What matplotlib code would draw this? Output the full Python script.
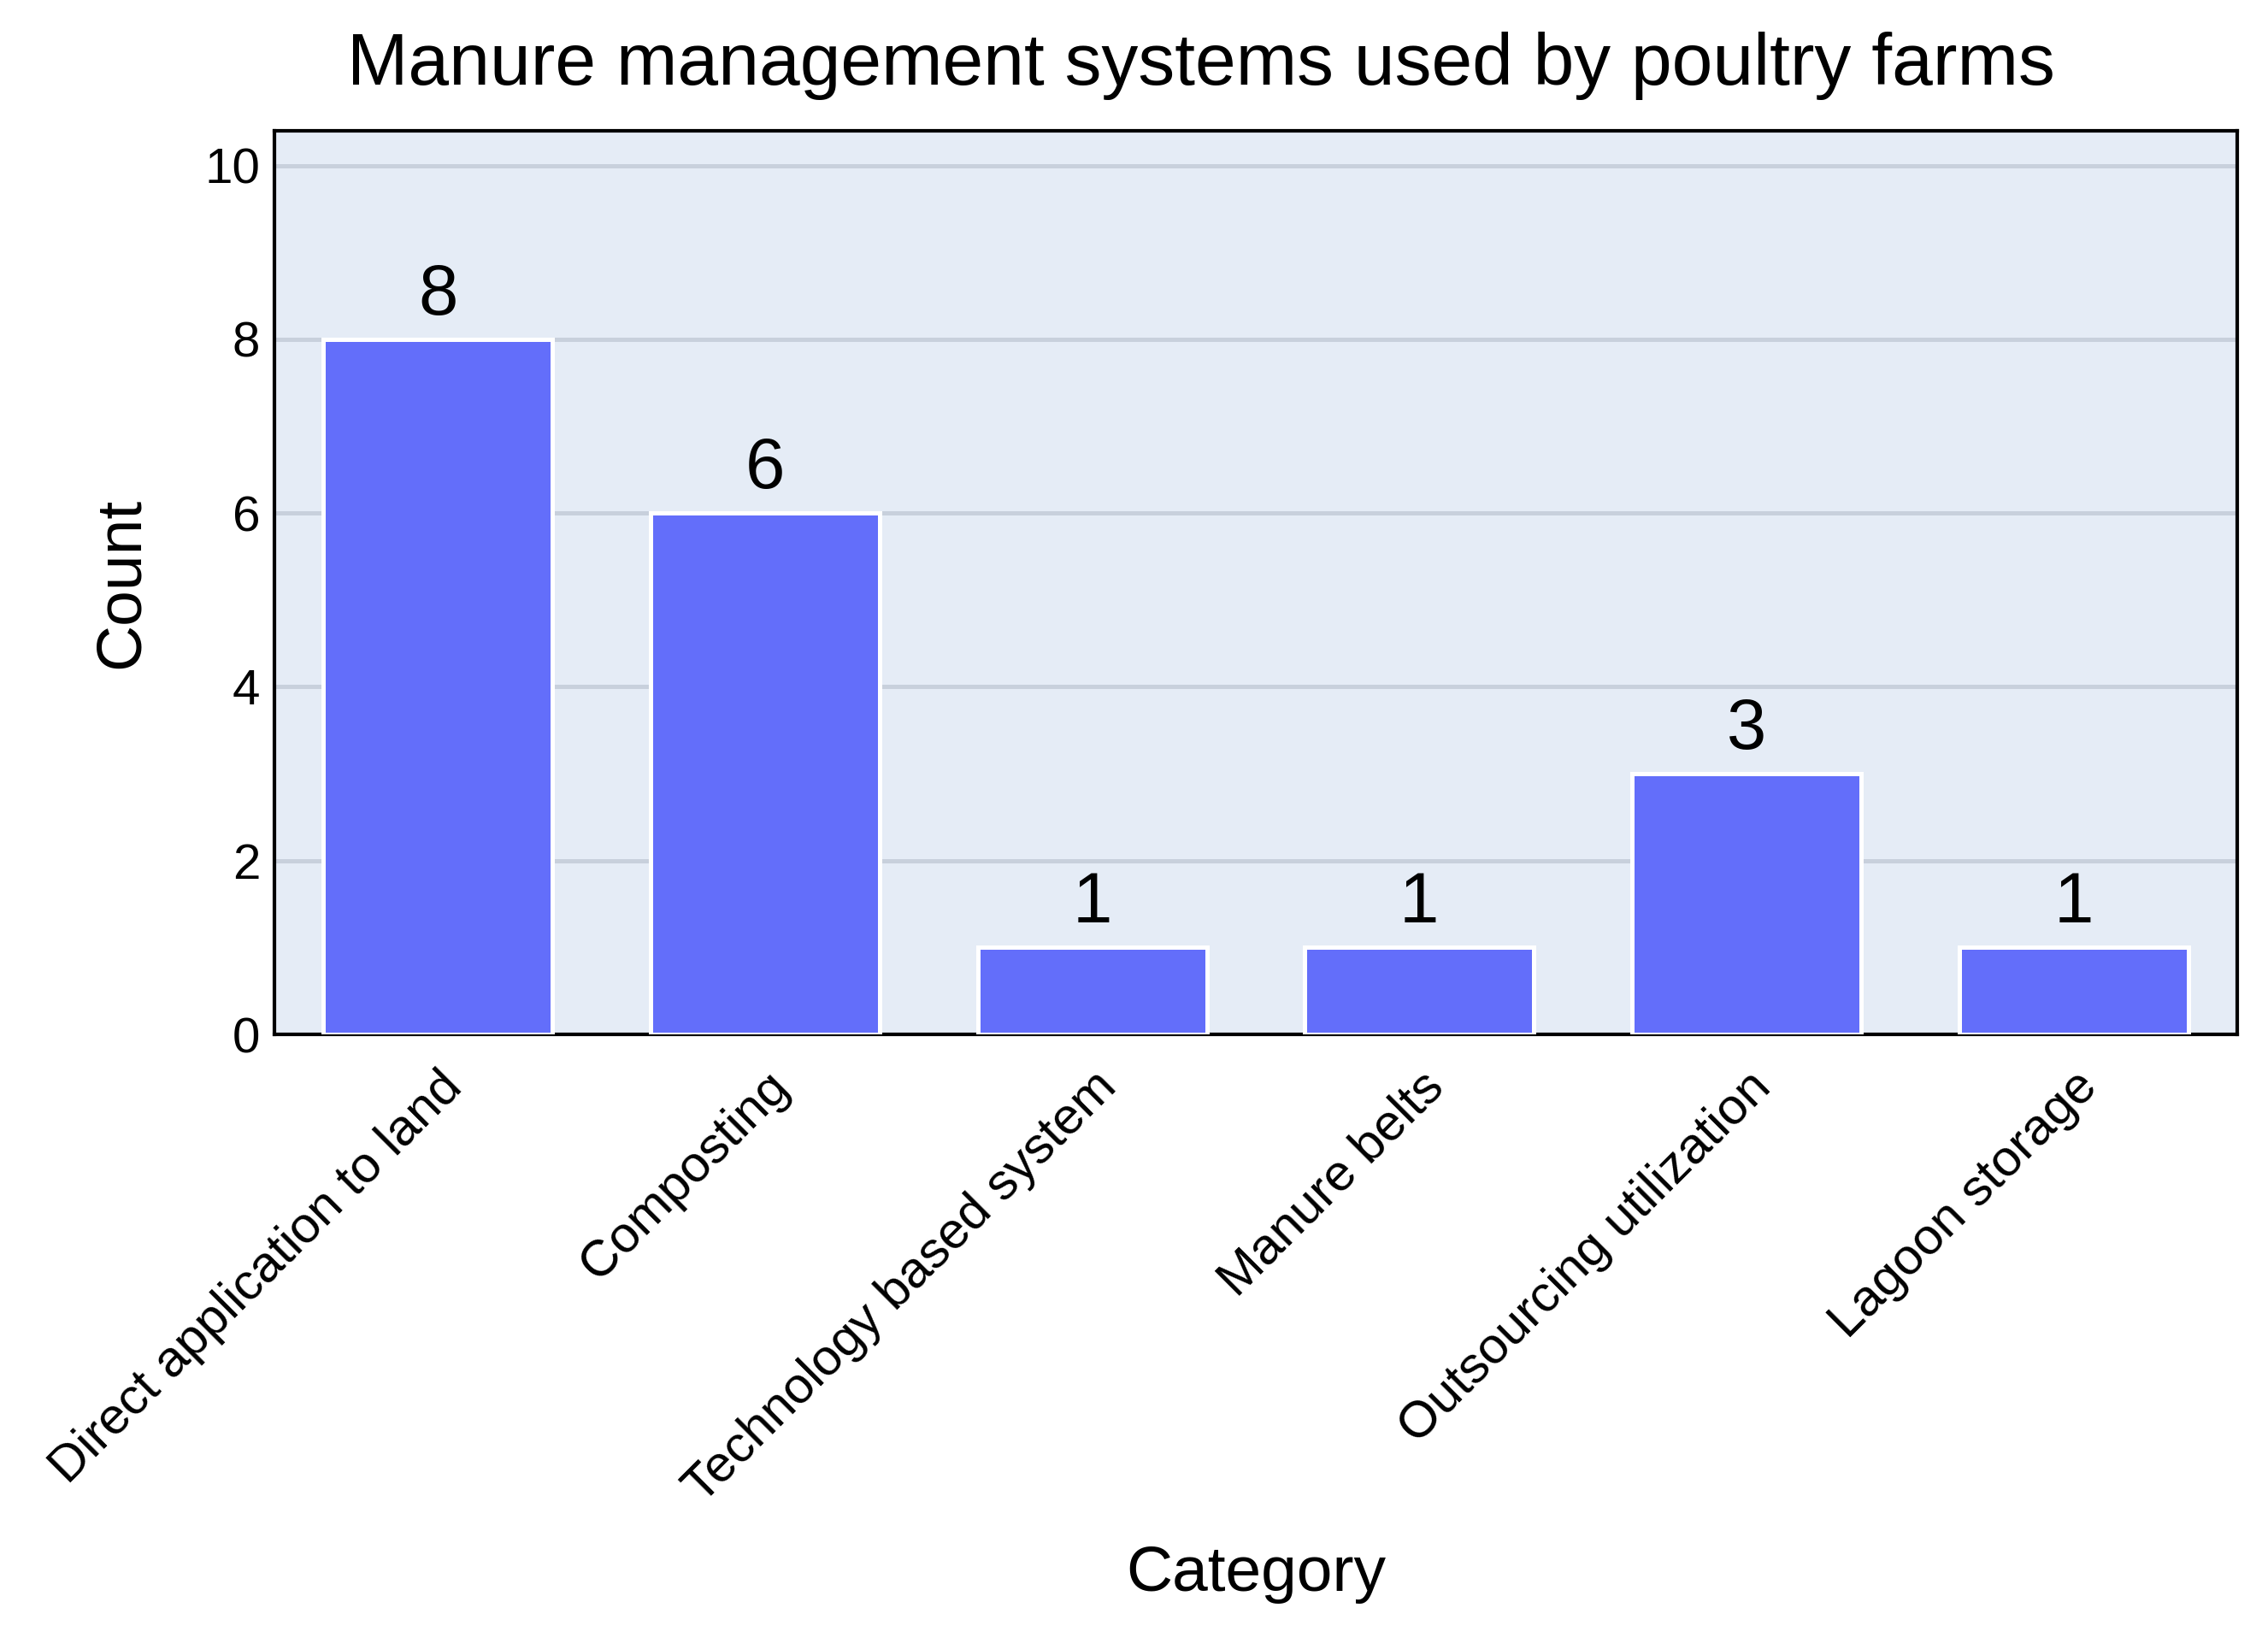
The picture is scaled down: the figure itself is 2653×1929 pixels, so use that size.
import matplotlib
matplotlib.use("Agg")
import matplotlib.pyplot as plt

categories = ["Direct application to land", "Composting", "Technology based system",
              "Manure belts", "Outsourcing utilization", "Lagoon storage"]
counts = [8, 6, 1, 1, 3, 1]
yticks = [0, 2, 4, 6, 8, 10]

plt.rcParams['font.family'] = ['Liberation Sans', 'DejaVu Sans']

fig = plt.figure(figsize=(2654/300, 1929/300), dpi=300)
ax = fig.add_axes([321/2654, 1-1210/1929, (2617-321)/2654, (1210-153)/1929])
ax.set_facecolor('#E5ECF6')
x = list(range(len(categories)))
bars = ax.bar(x, counts, width=0.7, color='#636EFA', edgecolor='white', linewidth=1.2, zorder=3)
for xi, c in zip(x, counts):
    ax.text(xi, c + 0.12, str(c), ha='center', va='bottom', fontsize=20, zorder=4)
ax.set_xlim(-0.5, len(categories) - 0.5)
ax.set_ylim(0, max(counts) * 1.3)
ax.set_yticks(yticks)
ax.yaxis.grid(True, color='#C8D0DC', linewidth=1.2, zorder=0)
ax.set_axisbelow(True)
ax.set_xticks(x)
ax.set_xticklabels(categories, rotation=45, ha='right', rotation_mode='anchor', fontsize=14.4)
ax.tick_params(axis='y', labelsize=14, length=0, pad=4)
ax.tick_params(axis='x', length=0, pad=8)
for s in ax.spines.values():
    s.set_linewidth(1.0)
    s.set_color('black')
ax.set_ylabel('Count', fontsize=18, labelpad=15)
ax.set_xlabel('Category', fontsize=18, labelpad=9)
fig.text(830/1568, 1 - 22/1140, 'Manure management systems used by poultry farms',
         fontsize=20.6, ha='center', va='top')
fig.savefig('out.png', dpi=300)
